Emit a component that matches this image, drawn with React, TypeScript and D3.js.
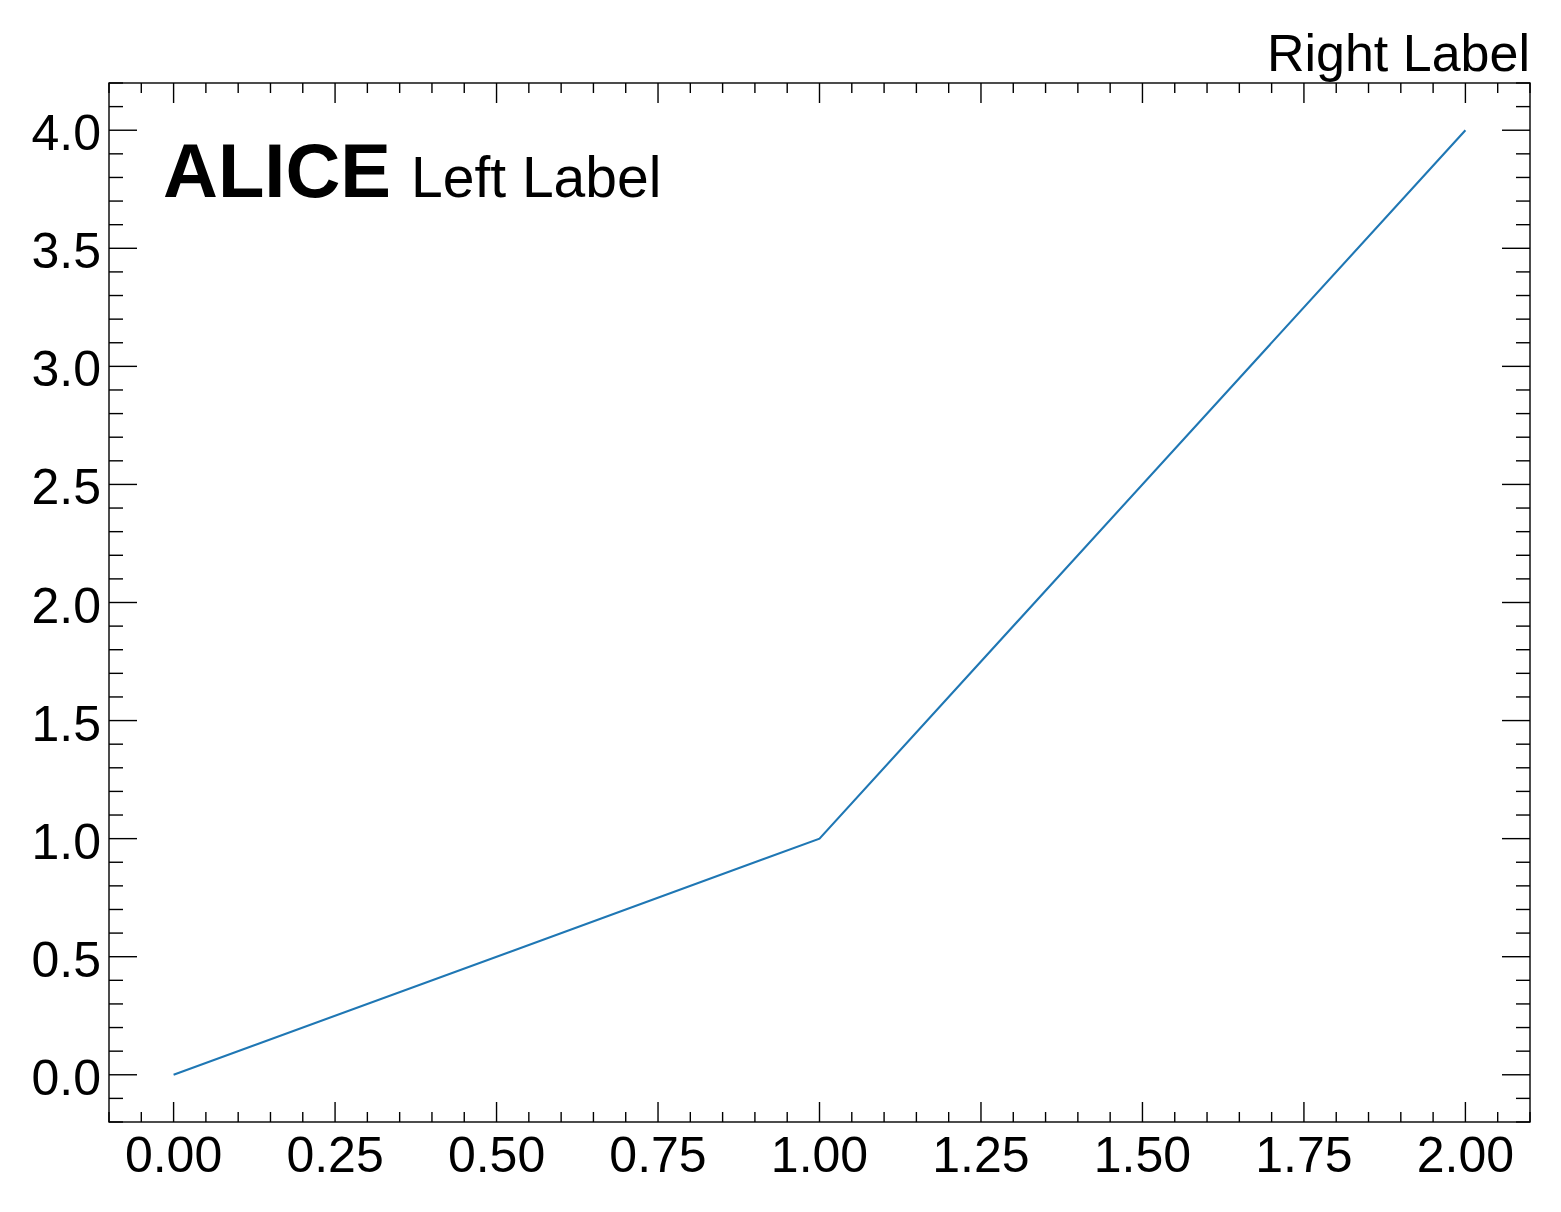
import React, { useEffect, useRef } from "react";
import * as d3 from "d3";

const xValues = [0, 1, 2];
const yValues = [0, 1, 4];
const xMajorTicks = [0, 0.25, 0.5, 0.75, 1.0, 1.25, 1.5, 1.75, 2.0];
const yMajorTicks = [0, 0.5, 1.0, 1.5, 2.0, 2.5, 3.0, 3.5, 4.0];
const experimentLabel = "ALICE";
const leftLabel = "Left Label";
const rightLabel = "Right Label";

const W = 1561;
const H = 1212;
const M = { left: 109, right: 1530, top: 83, bottom: 1122 };
const FONT = "'Liberation Sans', Arial, Helvetica, sans-serif";

export default function App() {
  const ref = useRef<SVGSVGElement>(null);

  useEffect(() => {
    document.body.style.margin = "0";
    const svg = d3.select(ref.current);
    svg.selectAll("*").remove();

    const x = d3.scaleLinear().domain([-0.1, 2.1]).range([M.left, M.right]);
    const y = d3.scaleLinear().domain([-0.2, 4.2]).range([M.bottom, M.top]);

    const xMinor = d3.range(-0.1, 2.1001, 0.05).map((v) => Math.round(v * 100) / 100)
      .filter((v) => v >= -0.1 && v <= 2.1 && !xMajorTicks.some((m) => Math.abs(m - v) < 1e-6));
    const yMinor = d3.range(-0.2, 4.2001, 0.1).map((v) => Math.round(v * 10) / 10)
      .filter((v) => v >= -0.2 && v <= 4.2 && !yMajorTicks.some((m) => Math.abs(m - v) < 1e-6));

    const g = svg.append("g");
    const stroke = "#000";
    const sw = 1.4;

    const tick = (x1: number, y1: number, x2: number, y2: number) =>
      g.append("line").attr("x1", x1).attr("y1", y1).attr("x2", x2).attr("y2", y2)
        .attr("stroke", stroke).attr("stroke-width", sw);

    xMajorTicks.forEach((v) => {
      tick(x(v), M.bottom, x(v), M.bottom - 20);
      tick(x(v), M.top, x(v), M.top + 20);
    });
    xMinor.forEach((v) => {
      tick(x(v), M.bottom, x(v), M.bottom - 10);
      tick(x(v), M.top, x(v), M.top + 10);
    });
    yMajorTicks.forEach((v) => {
      tick(M.left, y(v), M.left + 28, y(v));
      tick(M.right, y(v), M.right - 28, y(v));
    });
    yMinor.forEach((v) => {
      tick(M.left, y(v), M.left + 14, y(v));
      tick(M.right, y(v), M.right - 14, y(v));
    });

    const line = d3.line<number>().x((_, i) => x(xValues[i])).y((d) => y(d));
    g.append("path").datum(yValues).attr("d", line).attr("fill", "none")
      .attr("stroke", "#1f77b4").attr("stroke-width", 2.1);

    g.append("rect").attr("x", M.left).attr("y", M.top)
      .attr("width", M.right - M.left).attr("height", M.bottom - M.top)
      .attr("fill", "none").attr("stroke", stroke).attr("stroke-width", sw);

    const fs = 50;
    xMajorTicks.forEach((v) => {
      g.append("text").attr("x", x(v)).attr("y", M.bottom + 50)
        .attr("text-anchor", "middle").attr("font-family", FONT).attr("font-size", fs)
        .text(d3.format(".2f")(v));
    });
    yMajorTicks.forEach((v) => {
      g.append("text").attr("x", M.left - 8).attr("y", y(v) + 20)
        .attr("text-anchor", "end").attr("font-family", FONT).attr("font-size", fs)
        .text(d3.format(".1f")(v));
    });

    const t = g.append("text").attr("x", 163).attr("y", 197).attr("font-family", FONT);
    t.append("tspan").attr("font-weight", "bold").attr("font-size", 76).text(experimentLabel);
    t.append("tspan").attr("dx", 20).attr("font-size", 57).text(leftLabel);

    g.append("text").attr("x", M.right).attr("y", 71).attr("text-anchor", "end")
      .attr("font-family", FONT).attr("font-size", 52).text(rightLabel);
  }, []);

  return <svg ref={ref} width={W} height={H} style={{ display: "block", background: "#fff" }} />;
}
